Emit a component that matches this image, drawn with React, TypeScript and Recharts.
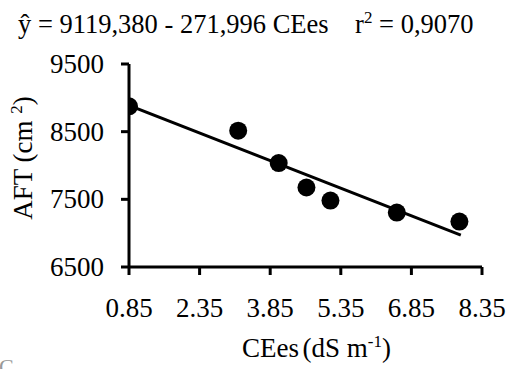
import React from 'react';
import { ScatterChart, Scatter, XAxis, YAxis } from 'recharts';

const ceesValues = [0.85, 3.17, 4.03, 4.62, 5.13, 6.54, 7.87];
const aftValues = [8875, 8515, 8036, 7675, 7482, 7304, 7171];
const xTicks = [0.85, 2.35, 3.85, 5.35, 6.85, 8.35];
const yTicks = [6500, 7500, 8500, 9500];
const coef = [9119.38, -271.996];
const fitRange = [0.85, 7.9];

const points = ceesValues.map((x, i) => ({ x, y: aftValues[i] }));
const fitLine = fitRange.map((x) => ({ x, y: coef[0] + coef[1] * x }));

const FONT = '"Liberation Serif", "Times New Roman", serif';
const FS = 27;

const tickStyle: React.CSSProperties = { fontSize: FS, fontFamily: FONT };

const XTick = ({ x, y, payload }: any) => (
  <text x={x} y={y + 18} textAnchor="middle" fill="#000" style={tickStyle}>
    {Number(payload.value).toFixed(2)}
  </text>
);

const YTick = ({ x, y, payload }: any) => (
  <text x={x} y={y + 9} textAnchor="end" fill="#000" style={tickStyle}>
    {String(payload.value)}
  </text>
);

const supStyle: React.CSSProperties = {
  fontSize: 17,
  verticalAlign: 'top',
  lineHeight: '17px',
  position: 'relative',
  top: -2,
};

export default function App() {
  return (
    <div
      style={{
        position: 'absolute',
        left: 0,
        top: 0,
        width: 508,
        height: 369,
        background: '#fff',
        fontFamily: FONT,
        overflow: 'hidden',
      }}
    >
      <ScatterChart
        width={508}
        height={369}
        margin={{ top: 64, right: 26, bottom: 42, left: 20 }}
      >
        <XAxis
          type="number"
          dataKey="x"
          domain={[0.85, 8.35]}
          ticks={xTicks}
          allowDataOverflow
          height={60}
          stroke="#000"
          strokeWidth={3}
          tickSize={8}
          tickMargin={24}
          tick={<XTick />}
        />
        <YAxis
          type="number"
          dataKey="y"
          domain={[6500, 9500]}
          ticks={yTicks}
          allowDataOverflow
          width={109}
          stroke="#000"
          strokeWidth={3}
          tickSize={8}
          tickMargin={17}
          tick={<YTick />}
        />
        {/* reta ajustada */}
        <Scatter
          data={fitLine}
          line={{ stroke: '#000', strokeWidth: 3 }}
          shape={() => <g />}
          isAnimationActive={false}
        />
        <Scatter
          data={points}
          fill="#000"
          shape={(p: any) => <circle cx={p.cx} cy={p.cy} r={9} fill="#000" />}
          isAnimationActive={false}
        />
      </ScatterChart>

      {/* equação da regressão */}
      <div
        style={{
          position: 'absolute',
          left: 18,
          top: 11,
          fontSize: 26.5,
          lineHeight: '27px',
          whiteSpace: 'pre',
          color: '#000',
        }}
      >
        ŷ = 9119,380 - 271,996 CEes{'    '}r<sup style={supStyle}>2</sup> = 0,9070
      </div>

      <div
        style={{
          position: 'absolute',
          left: 23,
          top: 158,
          transform: 'translate(-50%, -50%) rotate(-90deg)',
          fontSize: FS,
          lineHeight: '27px',
          whiteSpace: 'pre',
          color: '#000',
        }}
      >
        AFT (cm <sup style={supStyle}>2</sup>)
      </div>

      <div
        style={{
          position: 'absolute',
          left: 242,
          top: 335,
          fontSize: FS,
          lineHeight: '27px',
          whiteSpace: 'pre',
          color: '#000',
        }}
      >
        CEes<span style={{ fontSize: 14 }}> </span>(dS m<sup style={supStyle}>-1</sup>)
      </div>

      <div
        style={{
          position: 'absolute',
          left: -1,
          top: 354,
          fontSize: 22,
          lineHeight: '26px',
          color: '#999',
        }}
      >
        C
      </div>
    </div>
  );
}
